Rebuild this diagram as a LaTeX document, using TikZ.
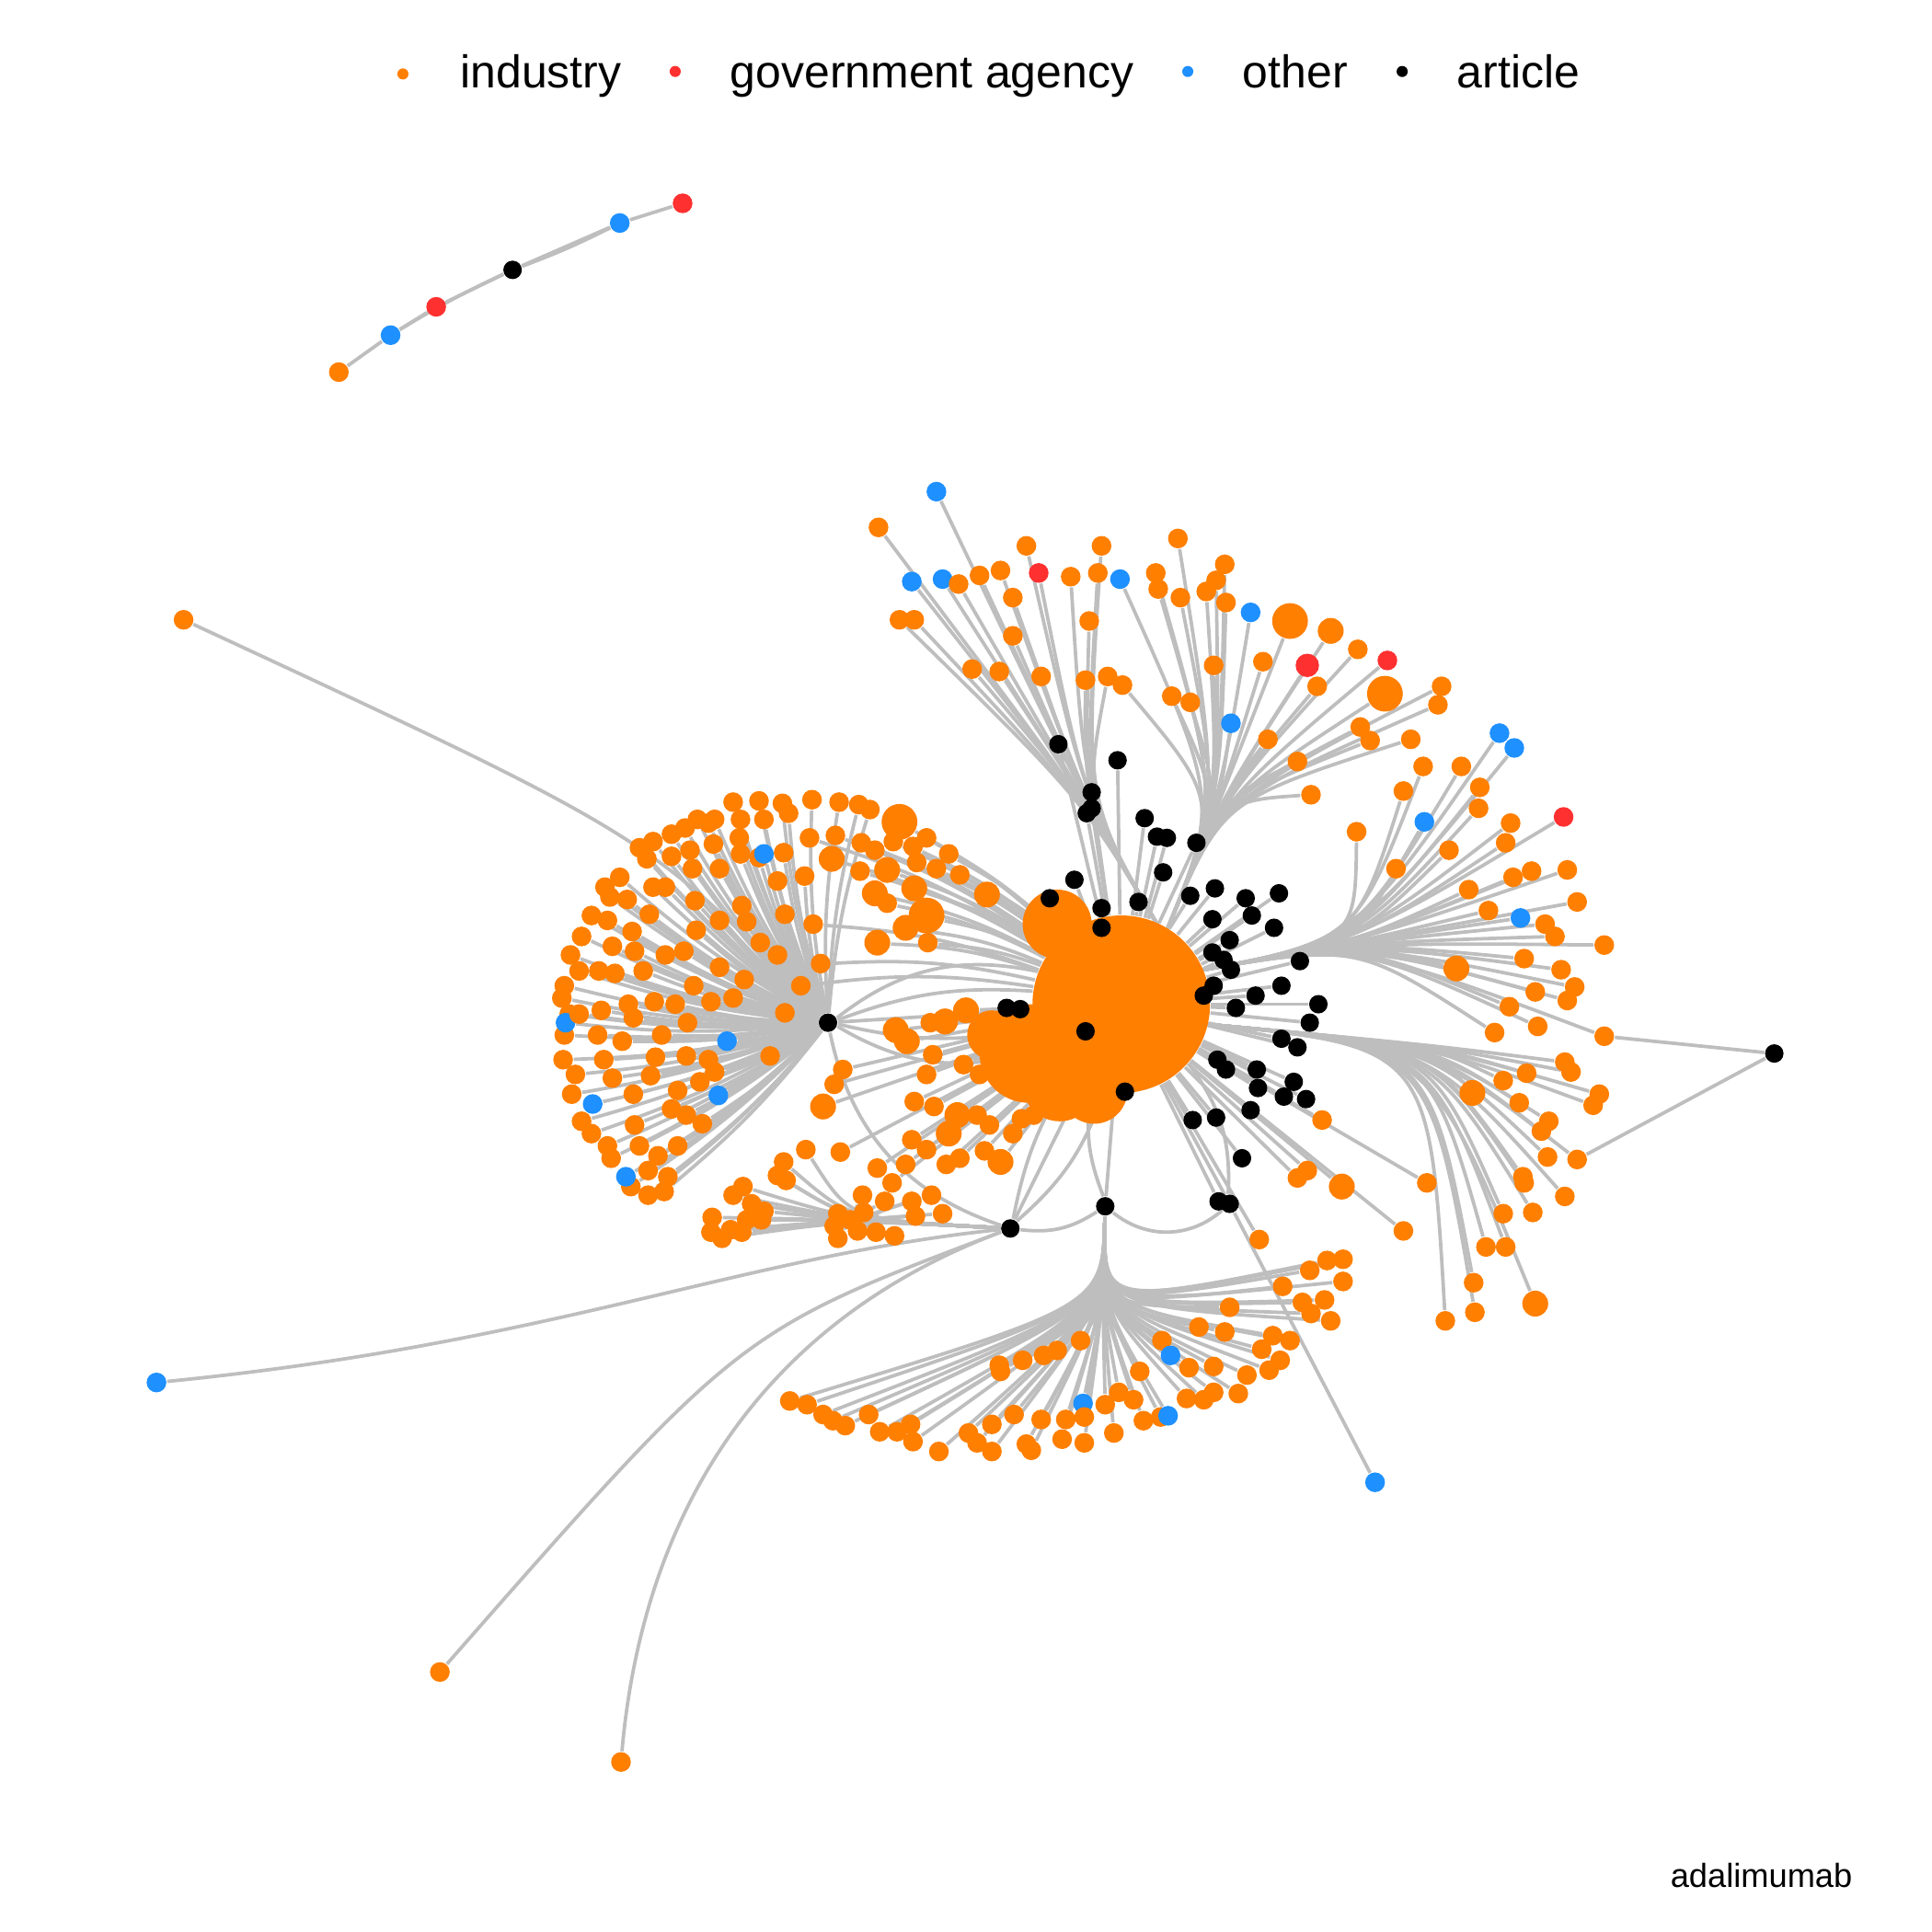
\documentclass[tikz,border=0pt]{standalone}
\usepackage{fontspec}
\setmainfont{Liberation Sans}
\pgfdeclarelayer{edges}
\pgfsetlayers{edges,main}
\definecolor{indcol}{RGB}{255,127,0}
\definecolor{govcol}{RGB}{255,48,48}
\definecolor{othcol}{RGB}{30,144,255}
\definecolor{edgecol}{RGB}{190,190,190}
\tikzset{
  dot/.style={circle,inner sep=0pt,draw=none},
  ind/.style={dot,fill=indcol,minimum size=0.16cm},
  indm/.style={dot,fill=indcol,minimum size=0.21cm},
  indb/.style={dot,fill=indcol,minimum size=0.29cm},
  gov/.style={dot,fill=govcol,minimum size=0.16cm},
  govm/.style={dot,fill=govcol,minimum size=0.19cm},
  oth/.style={dot,fill=othcol,minimum size=0.16cm},
  art/.style={dot,fill=black,minimum size=0.15cm},
  blob/.style={dot,fill=indcol},
  legdot/.style={dot,minimum size=0.09cm},
  legtext/.style={anchor=base west,inner sep=0pt,font=\fontsize{10.6}{12}\selectfont},
  edge/.style={draw=edgecol,line width=0.8pt}
}
% leaves, in picture units
\def\topleft{760/399/oth,713/428/ind,740/472/oth,765/470/oth,778/474/ind,795/467/ind,812/463/ind,843/465/gov,869/468/ind,891/465/ind,833/443/ind,894/443/ind,822/485/ind,730/503/ind,742/503/ind,822/516/ind,884/504/ind,789/543/ind,811/545/ind,845/549/ind,881/552/ind,899/549/ind}
\def\topright{909/470/oth,938/465/ind,940/478/ind,958/485/ind,979/480/ind,987/471/ind,994/458/ind,956/437/ind,995/489/ind,1015/497/oth,1047/504/indb,1080/512/indm,1102/527/ind,1126/536/gov,1061/540/govm,1124/563/indb,1170/557/ind,1167/572/ind,1069/557/ind,911/556/ind,951/565/ind,966/570/ind,985/540/ind,1025/537/ind,999/587/oth,1029/600/ind,1053/618/ind,1064/645/ind,1104/590/ind,1112/601/ind,1145/600/ind}
\def\rightup{1139/642/ind,1155/622/ind,1186/622/ind,1201/639/ind,1200/656/ind,1226/668/ind,1222/684/ind,1176/690/ind,1133/705/ind,1101/675/ind,1217/595/oth,1229/607/oth,1156/667/oth,1269/663/gov,1192/722/ind,1208/739/ind,1228/712/ind,1243/707/ind,1272/706/ind,1280/732/ind,1234/745/oth,1254/750/ind,1262/760/ind,1302/767/ind,1182/786/indm,1237/778/ind,1267/787/ind,1278/801/ind,1225/817/ind,1246/805/ind,1272/812/ind,1248/833/ind,1213/838/ind,1302/841/ind}
\def\rightlow{1195/887/indm,1220/877/ind,1239/871/ind,1270/862/ind,1275/870/ind,1233/895/ind,1257/910/ind,1298/888/ind,1293/897/ind,1256/939/ind,1251/918/ind,1280/941/ind,1236/955/ind,1237/960/ind,1270/971/ind,1220/985/ind,1244/984/ind,1206/1012/ind,1222/1012/ind,1196/1041/ind,1173/1072/ind,1197/1065/ind,1246/1058/indm}
\def\nearright{1158/960/ind,1139/999/ind,1073/909/ind,1053/956/ind,1061/950/ind,1089/963/indm,1022/1006/ind}
\def\bottomfan{1090/1022/ind,1077/1023/ind,1063/1031/ind,1090/1040/ind,1041/1044/ind,1075/1055/ind,1057/1057/ind,1080/1072/ind,1064/1066/ind,1033/1084/ind,1047/1088/ind,1024/1095/ind,1039/1104/ind,1012/1116/ind,1030/1112/ind,1005/1131/ind,998/1061/ind,994/1081/ind,973/1077/ind,985/1109/ind,965/1110/ind,943/1088/ind,950/1100/oth,925/1113/ind,908/1130/ind,920/1136/ind,942/1150/ind,928/1153/ind,948/1149/oth,963/1135/ind,977/1136/ind,985/1130/ind,879/1139/oth,877/1088/ind,858/1096/ind,847/1100/ind,830/1104/ind,811/1108/ind,812/1113/ind,897/1140/ind,880/1150/ind,865/1152/ind,845/1152/ind,823/1148/ind,904/1163/ind,880/1171/ind,862/1168/ind,837/1177/ind,833/1172/ind,805/1178/ind,786/1163/ind,805/1156/ind,793/1171/ind,762/1178/ind,741/1170/ind,739/1156/ind,728/1162/ind,714/1162/ind,705/1148/ind,686/1157/ind,676/1153/ind,668/1148/ind,655/1140/ind,641/1137/ind}
\def\leftfan{616/650/ind,635/652/ind,659/649/ind,681/651/ind,697/653/ind,706/657/ind,595/651/ind,601/665/ind,580/665/ind,566/665/ind,575/668/ind,556/672/ind,545/677/ind,530/683/ind,519/688/ind,525/697/ind,503/712/ind,491/720/ind,495/728/ind,480/743/ind,472/760/ind,493/747/ind,463/775/ind,470/788/ind,458/800/ind,456/810/ind,462/823/ind,458/840/ind,457/860/ind,467/872/ind,464/888/ind,472/910/ind,480/920/ind,493/930/ind,496/940/ind,512/963/ind,526/970/ind,539/967/ind,519/930/ind,515/913/ind,481/896/oth,508/955/oth,459/830/oth,545/695/ind,560/690/ind,579/685/ind,600/680/ind,620/665/ind,640/660/ind,616/696/ind,636/692/ind,653/711/ind,584/747/ind,565/755/ind,555/772/ind,540/775/ind,527/742/ind,530/720/ind,509/730/ind,513/756/ind,515/772/ind,497/768/ind,486/788/ind,499/790/ind,522/788/ind,564/731/ind,584/705/ind,602/735/ind,606/748/ind,631/715/ind,637/742/ind,601/693/ind,620/693/oth,562/705/ind,540/720/ind,631/775/ind,617/765/ind,604/795/ind,584/785/ind,577/813/ind,595/810/ind,563/800/ind,548/815/ind,531/813/ind,510/815/ind,488/820/ind,470/823/ind,485/840/ind,514/826/ind,505/845/ind,537/840/ind,558/830/ind,637/822/ind,625/857/ind,575/860/ind,557/857/ind,532/858/ind,528/873/ind,514/888/ind,497/875/ind,490/860/ind,550/885/ind,568/878/ind,580/870/ind,545/900/ind,557/905/ind,570/912/ind,550/930/ind,534/938/ind,542/955/ind,526/950/ind,583/889/oth,590/845/oth}
\def\uppermid{730/667/indb,752/680/ind,770/693/ind,779/710/ind,801/726/indm,657/680/ind,678/678/ind,699/684/ind,710/690/ind,725/683/ind,741/687/ind,744/700/ind,760/705/ind,675/697/indm,698/707/ind,720/706/indm,742/721/indm,710/725/indm,752/743/indb,720/733/ind,735/753/indm,753/765/ind,712/765/indm,666/782/ind,650/800/ind,660/750/ind}
\def\midfan{727/836/indm,736/845/indm,755/830/ind,767/829/indm,784/820/indm,800/836/indm,757/856/ind,782/864/ind,795/872/ind,752/872/ind,742/894/ind,758/898/ind,777/905/indm,793/905/ind,803/913/ind,770/920/indm,740/925/ind,752/933/ind,779/940/ind,799/934/ind,812/943/indm,822/920/ind,829/908/ind,839/905/ind,768/945/ind,668/898/indm,677/880/ind,684/868/ind,682/935/ind,712/948/ind,735/945/ind,724/960/ind}
\def\lowleft{654/933/ind,636/943/ind,631/954/ind,638/958/ind,603/963/ind,595/970/ind,610/977/ind,606/990/ind,618/990/ind,578/988/ind,577/1000/ind,593/998/ind,586/1005/ind,602/1000/ind,620/983/ind,700/970/ind,718/975/ind,740/975/ind,756/970/ind,765/985/ind,743/987/ind,726/1003/ind,711/1000/ind,696/999/ind,680/1005/ind,677/995/ind,680/985/ind,690/990/ind,701/984/ind}
\def\articles{859/604,907/617,886/643,886/656,882/660,929/664,939/679,947/680,971/684,944/708,872/714,852/729,894/737,924/732,894/753,966/727,986/721,1011/729,1038/725,984/746,1016/743,1034/753,998/763,984/773,993/779,999/787,1055/780,985/800,977/808,1019/808,1040/800,1070/815,1003/818,1063/830,1040/843,1053/850,988/860,995/868,1020/868,1021/883,1050/878,1042/890,1060/892,1015/901,968/909,987/907,1008/940,989/975,817/818,828/819,881/837,913/886}
\begin{document}
\begin{tikzpicture}[x=0.01cm,y=-0.01cm]
\useasboundingbox (0,0) rectangle (1568,1568);
% legend
\node[legdot,fill=indcol] (kind) at (327,60) {};
\node[legtext] (tind) at (373,71) {industry};
\node[legdot,fill=govcol] (kgov) at (548,58) {};
\node[legtext] (tgov) at (592,71) {government agency};
\node[legdot,fill=othcol] (koth) at (964,58) {};
\node[legtext] (toth) at (1008,71) {other};
\node[legdot,fill=black] (kart) at (1138,58) {};
\node[legtext] (tart) at (1182,71) {article};
\node[anchor=base east,inner sep=0pt,font=\fontsize{7.7}{9}\selectfont] (drug) at (1504,1532) {adalimumab};
% small component
\node[ind] (c1) at (275,302) {};
\node[oth] (c2) at (317,272) {};
\node[gov] (c3) at (354,249) {};
\node[art] (c4) at (416,219) {};
\node[oth] (c5) at (503,181) {};
\node[gov] (c6) at (554,165) {};
% big industry blob
\node[blob,minimum size=1.44cm] (blob1) at (910,815) {};
\node[blob,minimum size=0.56cm] (blob2) at (858,750) {};
\node[blob,minimum size=0.80cm] (blob3) at (835,855) {};
\node[blob,minimum size=0.40cm] (blob4) at (805,840) {};
\node[blob,minimum size=0.54cm] (blob5) at (888,885) {};
\node[blob,minimum size=0.60cm] (blob6) at (860,880) {};
\coordinate (HT) at (945,760);
\coordinate (HRa) at (960,790);
\coordinate (HRb) at (965,830);
% leaves
\foreach \x/\y/\k [count=\i] in \topleft {\node[\k] (tl\i) at (\x,\y) {};}
\foreach \x/\y/\k [count=\i] in \topright {\node[\k] (tr\i) at (\x,\y) {};}
\foreach \x/\y/\k [count=\i] in \rightup {\node[\k] (ru\i) at (\x,\y) {};}
\foreach \x/\y/\k [count=\i] in \rightlow {\node[\k] (rl\i) at (\x,\y) {};}
\foreach \x/\y/\k [count=\i] in \nearright {\node[\k] (nr\i) at (\x,\y) {};}
\foreach \x/\y/\k [count=\i] in \bottomfan {\node[\k] (bf\i) at (\x,\y) {};}
\foreach \x/\y/\k [count=\i] in \leftfan {\node[\k] (lf\i) at (\x,\y) {};}
\foreach \x/\y/\k [count=\i] in \uppermid {\node[\k] (um\i) at (\x,\y) {};}
\foreach \x/\y/\k [count=\i] in \midfan {\node[\k] (mf\i) at (\x,\y) {};}
\foreach \x/\y/\k [count=\i] in \lowleft {\node[\k] (ll\i) at (\x,\y) {};}
\node[ind] (far1) at (149,503) {};
\node[oth] (far2) at (127,1122) {};
\node[ind] (far3) at (357,1357) {};
\node[ind] (far4) at (504,1430) {};
\node[oth] (far5) at (1116,1203) {};
\node[art] (far6) at (1440,855) {};
% articles
\foreach \x/\y [count=\i] in \articles {\node[art] (ar\i) at (\x,\y) {};}
\node[art] (HL) at (672,830) {};
\node[art] (HB1) at (820,997) {};
\node[art] (HB2) at (897,979) {};
\node[art] (HB3) at (998,977) {};
\begin{pgfonlayer}{edges}
\draw[edge] (c1) -- (c2) -- (c3) -- (c4) -- (c5) -- (c6);
\draw[edge] (c2) to[bend left=3] (c4);
\draw[edge] (c4) to[bend right=3] (c5);
\foreach \x/\y/\k [count=\i] in \topleft {\draw[edge] (HT) .. controls (880,650) .. (tl\i);}
\foreach \x/\y/\k [count=\i] in \topright {\draw[edge] (HT) .. controls (990,650) .. (tr\i);}
\foreach \x/\y/\k [count=\i] in \rightup {\draw[edge] (HRa) .. controls (1100,765) .. (ru\i);}
\foreach \x/\y/\k [count=\i] in \rightlow {\draw[edge] (HRb) .. controls (1160,848) .. (rl\i);}
\foreach \x/\y/\k [count=\i] in \nearright {\draw[edge] (blob1) -- (nr\i);}
\foreach \x/\y/\k [count=\i] in \bottomfan {\draw[edge] (HB2) .. controls (895,1060) .. (bf\i);}
\foreach \x/\y/\k [count=\i] in \leftfan {\draw[edge] (HL) to[bend left=6] (lf\i);}
\foreach \x/\y/\k [count=\i] in \uppermid {\draw[edge] (blob1) to[bend right=8] (um\i);}
\foreach \x/\y/\k [count=\i] in \midfan {\draw[edge] (blob1) -- (mf\i);}
\foreach \x/\y/\k [count=\i] in \lowleft {\draw[edge] (HB1) .. controls (690,990) .. (ll\i);}
\foreach \x/\y [count=\i] in \articles {\draw[edge] (blob1) -- (ar\i);}
\draw[edge] (far1) .. controls (530,680) .. (HL);
\draw[edge] (far2) .. controls (450,1090) and (600,1020) .. (HB1);
\draw[edge] (far3) .. controls (600,1080) .. (HB1);
\draw[edge] (far4) .. controls (520,1250) and (600,1080) .. (HB1);
\draw[edge] (far5) -- (HB3);
\draw[edge] (far6) -- (ru34);
\draw[edge] (far6) -- (rl12);
\foreach \b in {-25,-12,0,12,25} {\draw[edge] (HL) to[bend left=\b] (blob1);}
\foreach \b in {-15,0,10} {\draw[edge] (HB1) to[bend left=\b] (blob1);}
\draw[edge] (HB1) to[bend left=30] (HL);
\draw[edge] (HB1) to[bend right=20] (HB2);
\draw[edge] (HB2) -- (blob1);
\draw[edge] (HB2) to[bend left=15] (blob1);
\draw[edge] (HB2) to[bend right=40] (HB3);
\draw[edge] (HB3) -- (blob1);
\draw[edge] (HB3) to[bend right=20] (blob1);
\end{pgfonlayer}
\end{tikzpicture}
\end{document}
